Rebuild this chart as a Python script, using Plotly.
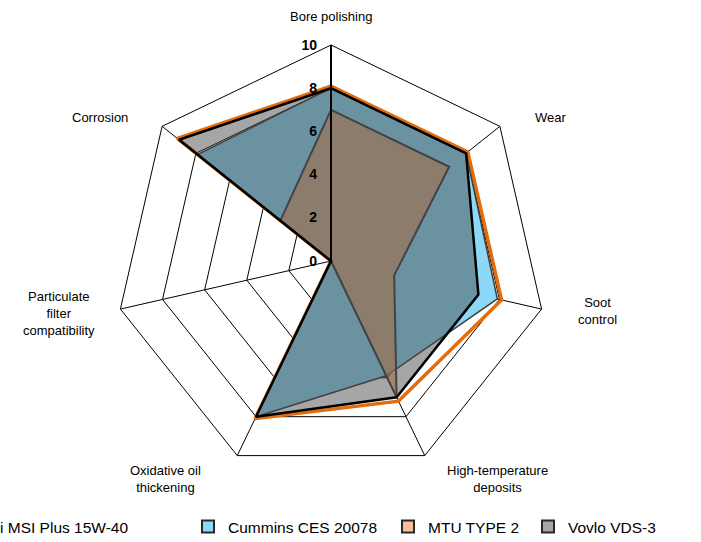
import plotly.graph_objects as go

# axis categories, clockwise from the top
axes = [
    "Bore polishing",
    "Wear",
    "Soot<br>control",
    "High-temperature<br>deposits",
    "Oxidative oil<br>thickening",
    "Particulate<br>filter<br>compatibility",
    "Corrosion",
]
radial_ticks = [0, 2, 4, 6, 8, 10]

names = ["i MSI Plus 15W-40", "Cummins CES 20078", "MTU TYPE 2", "Vovlo VDS-3"]
msi_plus = [8.1, 8.1, 8.1, 7.2, 8.1, 0, 9.1]
cummins = [8, 8, 7.9, 5.9, 8, 0, 7.9]
mtu = [7, 7, 3, 7, 0, 0, 3]
volvo = [8, 8, 7, 7, 8, 0, 9]

series = [msi_plus, cummins, mtu, volvo]
fills = ["rgba(0,0,0,0)", "rgb(140,216,246)", "rgba(245,148,79,0.6)", "rgba(69,69,69,0.48)"]
lines = ["rgb(228,108,10)", "rgb(64,64,64)", "rgb(64,64,64)", "black"]
widths = [3.5, 1.5, 2, 2.5]
swatch = ["white", "rgb(140,216,246)", "rgb(249,191,149)", "rgb(166,166,166)"]
# the first entry runs off the left edge in the original, so it gets its own legend
legend_ids = ["legend2", "legend", "legend", "legend"]
legend_w = [None, 155, 95, None]

W, H, B = 701, 542, 30
PH = H - B  # plot area height


def paper(x, y):
    # window pixel -> paper fraction
    return x / W, (PH - y) / PH


fig = go.Figure()
for vals, name, fc, lc, lw in zip(series, names, fills, lines, widths):
    fig.add_trace(
        go.Scatterpolar(
            r=vals + vals[:1],
            theta=axes + axes[:1],
            mode="lines",
            fill="toself" if fc != "rgba(0,0,0,0)" else None,
            fillcolor=fc,
            line=dict(color=lc, width=lw),
            name=name,
            showlegend=False,
            hoverinfo="skip",
        )
    )

# square legend swatches like the spreadsheet legend
for name, sc, lid, lw in zip(names, swatch, legend_ids, legend_w):
    fig.add_trace(
        go.Scatterpolar(
            r=[None],
            theta=[axes[0]],
            mode="markers",
            marker=dict(symbol="square", size=9, color=sc, line=dict(color="rgb(40,40,40)", width=1)),
            name=name,
            legend=lid,
            legendwidth=lw,
            showlegend=True,
        )
    )

# category labels sit further out than plotly's angular tick labels, centred like Excel
label_xy = [(331, 16), (550, 117), (597, 311), (497, 479), (165, 479), (59, 313), (100, 117)]
for text, (lx, ly) in zip(axes, label_xy):
    ax_, ay_ = paper(lx, ly)
    fig.add_annotation(
        x=ax_, y=ay_, xref="paper", yref="paper",
        text=text, showarrow=False, align="center",
        xanchor="center", yanchor="middle",
        font=dict(size=13),
    )

x0, y0 = paper(331 - 216, 261 + 216)
x1, y1 = paper(331 + 216, 261 - 216)
legend_y = paper(0, 527)[1]

fig.update_layout(
    width=W,
    height=H,
    margin=dict(l=0, r=0, t=0, b=B, autoexpand=False),
    paper_bgcolor="white",
    font=dict(family="Arial, Liberation Sans", size=13, color="black"),
    legend=dict(
        orientation="h",
        x=paper(188, 0)[0],
        xanchor="left",
        y=legend_y,
        yanchor="middle",
        font=dict(size=15.5),
        itemsizing="constant",
        bgcolor="rgba(0,0,0,0)",
    ),
    legend2=dict(
        orientation="h",
        x=paper(-40, 0)[0],
        xanchor="left",
        y=legend_y,
        yanchor="middle",
        font=dict(size=15.5),
        itemsizing="constant",
        bgcolor="rgba(0,0,0,0)",
    ),
    polar=dict(
        domain=dict(x=[x0, x1], y=[y0, y1]),
        bgcolor="white",
        gridshape="linear",
        radialaxis=dict(
            range=[0, 10],
            tickvals=radial_ticks,
            angle=90,
            tickangle=90,
            side="counterclockwise",
            showline=True,
            linecolor="black",
            linewidth=2,
            gridcolor="black",
            gridwidth=1,
            ticks="outside",
            ticklen=8,
            tickcolor="rgba(0,0,0,0)",
            tickfont=dict(size=14, weight="bold"),
        ),
        angularaxis=dict(
            direction="clockwise",
            rotation=90,
            showline=True,
            linecolor="black",
            linewidth=1,
            gridcolor="black",
            gridwidth=1,
            ticks="",
            showticklabels=False,
        ),
    ),
)

# drop the browser's default 8px body margin so the figure fills the window
fig.write_html(
    "out.html",
    config={"displayModeBar": False},
    post_script="document.body.style.margin='0';",
)
